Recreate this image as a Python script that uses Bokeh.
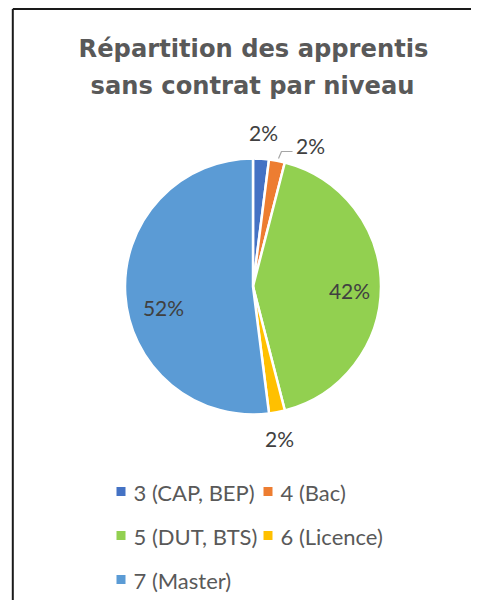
import math
from bokeh.plotting import figure
from bokeh.models import Range1d, ColumnDataSource
from bokeh.core.properties import value
from bokeh.embed import file_html
from bokeh.resources import INLINE

# ---- data ----
title_lines = ["Répartition des apprentis", "sans contrat par niveau"]
categories = ["3 (CAP, BEP)", "4 (Bac)", "5 (DUT, BTS)", "6 (Licence)", "7 (Master)"]
counts = [1, 1, 21, 1, 26]
colors = ["#4472C4", "#ED7D31", "#92D050", "#FFC000", "#5B9BD5"]

# ---- layout (picture pixel coords -> data coords) ----
W, H = 471, 600
def X(px):
    return px
def Y(py):
    return H - py

cx, cy, R = X(252.5), Y(286), 128

total = sum(counts)
fracs = [c / total for c in counts]
starts, ends = [], []
cum = 0.0
for f in fracs:
    starts.append(math.pi / 2 - cum * 2 * math.pi)
    cum += f
    ends.append(math.pi / 2 - cum * 2 * math.pi)
pct_labels = [f"{round(f * 100)}%" for f in fracs]

p = figure(width=W, height=H, x_range=Range1d(0, W), y_range=Range1d(0, H),
           output_backend="svg", toolbar_location=None, min_border=0,
           background_fill_color="white", border_fill_color="white")
p.axis.visible = False
p.grid.visible = False
p.outline_line_color = None

# chart area border (left & top visible)
p.line(x=[X(12.3), X(12.3)], y=[Y(8.6), -5], line_color="#1a1a1a", line_width=2)
p.line(x=[X(12.3), W + 5], y=[Y(8.6), Y(8.6)], line_color="#1a1a1a", line_width=2)

# title
title_font = value("DejaVu Sans")
p.text(x=[X(253), X(252)], y=[Y(48.5), Y(85)], text=title_lines,
       text_font=title_font, text_font_size="24.2px", text_font_style="bold",
       text_color="#595959", text_align="center", text_baseline="middle")

# pie
src = ColumnDataSource(dict(start=starts, end=ends, color=colors, cat=categories))
p.wedge(x=cx, y=cy, radius=R, start_angle="start", end_angle="end",
        direction="clock", fill_color="color", line_color="white",
        line_width=2.5, source=src)

# data labels (layout positions in picture px)
label_pos = [(263, 132), (310, 145), (349, 290), (279, 438), (163, 307)]
lab_font = value("Lato")
p.text(x=[X(a) for a, b in label_pos], y=[Y(b) for a, b in label_pos],
       text=pct_labels, text_font=lab_font, text_font_size="21px",
       text_color="#404040", text_align="center", text_baseline="middle")

# leader line for "4 (Bac)"
p.line(x=[X(278), X(281), X(292)], y=[Y(158), Y(151), Y(151)],
       line_color="#A6A6A6", line_width=1.2)

# legend (manual layout)
leg_pos = [(120.5, 491), (267.5, 491), (120.5, 535), (267.5, 535), (120.5, 579)]
p.rect(x=[X(a) for a, b in leg_pos], y=[Y(b) for a, b in leg_pos],
       width=9, height=9, fill_color=colors, line_color=None)
p.text(x=[X(a + 12.5) for a, b in leg_pos], y=[Y(b + 1) for a, b in leg_pos],
       text=categories, text_font=lab_font, text_font_size="22px",
       text_color="#595959", text_align="left", text_baseline="middle")

open("out.html", "w").write(file_html(p, INLINE))
